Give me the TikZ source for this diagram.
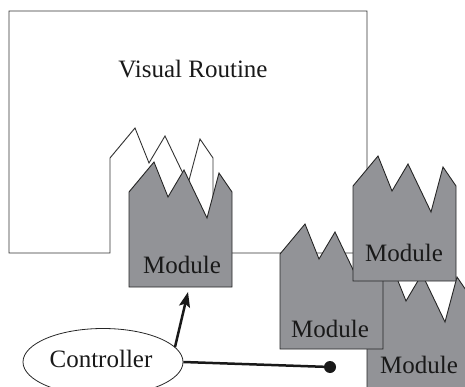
\documentclass[tikz,border=0pt]{standalone}
\usepackage{fontspec}
\setmainfont{Liberation Serif}
\usetikzlibrary{shapes.geometric,arrows.meta}
\definecolor{modgray}{RGB}{146,147,151}
\tikzset{
  modbody/.style={fill=modgray, draw=black!85, line width=0.9pt, line join=miter},
  routine/.style={draw=black!80, line width=0.9pt, line join=miter},
  modlabel/.style={anchor=base, font=\fontsize{25}{30}\selectfont, text=black!90, inner sep=0pt},
  pics/module/.style={code={
    \path[modbody] (0,0) -- (0,-95) -- (25,-125) -- (39,-90) -- (55,-117)
      -- (78,-69) -- (90,-114) -- (103,-95) -- (103,0) -- cycle;}},
  conn/.style={draw=black!90, line width=2.5pt},
  ctrlshape/.style={draw=black!85, ellipse, line width=0.8pt, minimum width=160pt, minimum height=67pt, inner sep=0pt},
}
\begin{document}
\begin{tikzpicture}[x=1pt,y=-1pt]
\useasboundingbox (0,0) rectangle (465,387);
\clip (0,0) rectangle (465,387);
% Visual routine outline
\path[routine] (9,253) -- (110,253) -- (110,158) -- (135,128) -- (149,163)
  -- (165,136) -- (188,184) -- (200,139) -- (213,158) -- (213,253)
  -- (367,253) -- (367,11) -- (9,11) -- cycle;
\node[modlabel] (vr) at (193,78) {Visual Routine};
% modules
\pic at (129,287) {module};
\node[modlabel] (m1) at (182,273) {Module};
\pic at (367,391) {module};
\node[modlabel] (m4) at (419,373) {Module};
\pic at (280,349) {module};
\node[modlabel] (m2) at (330,337) {Module};
\pic at (353,281) {module};
\node[modlabel] (m3) at (404,261) {Module};
% controller
\node[ctrlshape] (ctrl) at (103,362) {};
\node[modlabel] (ctrltext) at (101,367) {Controller};
\coordinate (atail) at (175,347);
\coordinate (ahead) at (188,292);
\draw[conn, -{Stealth[length=15pt,width=11pt,inset=3pt]}] (atail) -- (ahead);
\node[circle, fill=black!90, minimum size=12pt, inner sep=0pt] (dot) at (330,367) {};
\draw[conn] (ctrl.east) -- (dot.center);
\end{tikzpicture}
\end{document}
